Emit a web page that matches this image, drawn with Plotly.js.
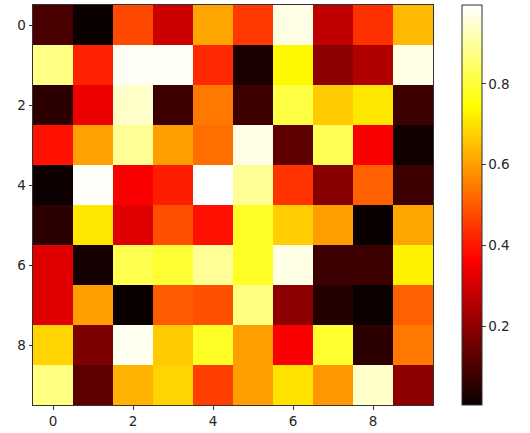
<!DOCTYPE html>
<html>
<head>
<meta charset="utf-8">
<script src="https://cdn.plot.ly/plotly-3.0.1.min.js"></script>
<style>html,body{margin:0;padding:0;background:#fff;}#chart{width:530px;height:433px;}</style>
</head>
<body>
<div id="chart"></div>
<script>
var cols = [0,1,2,3,4,5,6,7,8,9];
var rows = [0,1,2,3,4,5,6,7,8,9];
var row0 = [0.10, 0.007, 0.475, 0.29, 0.61, 0.45, 0.97, 0.27, 0.437, 0.64];
var row1 = [0.873, 0.415, 0.985, 0.985, 0.425, 0.03, 0.735, 0.20, 0.25, 0.97];
var row2 = [0.055, 0.34, 0.94, 0.08, 0.545, 0.08, 0.81, 0.665, 0.71, 0.08];
var row3 = [0.39, 0.605, 0.89, 0.60, 0.53, 0.97, 0.13, 0.825, 0.36, 0.015];
var row4 = [0.008, 0.99, 0.36, 0.41, 0.995, 0.89, 0.44, 0.19, 0.51, 0.08];
var row5 = [0.055, 0.71, 0.32, 0.485, 0.39, 0.78, 0.67, 0.60, 0.005, 0.61];
var row6 = [0.32, 0.02, 0.82, 0.795, 0.89, 0.78, 0.97, 0.08, 0.08, 0.725];
var row7 = [0.32, 0.60, 0.006, 0.50, 0.485, 0.87, 0.20, 0.045, 0.01, 0.51];
var row8 = [0.68, 0.175, 0.98, 0.665, 0.78, 0.60, 0.36, 0.79, 0.055, 0.545];
var row9 = [0.87, 0.13, 0.63, 0.68, 0.46, 0.60, 0.70, 0.59, 0.94, 0.20];
var z = [row0,row1,row2,row3,row4,row5,row6,row7,row8,row9];

var xTicks = [0,2,4,6,8];
var yTicks = [0,2,4,6,8];
var cbTicks = [0.2,0.4,0.6,0.8];

var hot = [
  [0, 'rgb(10,0,0)'],
  [0.365079, 'rgb(255,0,0)'],
  [0.746032, 'rgb(255,255,0)'],
  [1, 'rgb(255,255,255)']
];

var font = {family: 'DejaVu Sans', size: 13.5, color: '#262626'};

var trace = {
  type: 'heatmap',
  x: cols, y: rows, z: z,
  colorscale: hot,
  zsmooth: false,
  colorbar: {
    x: 1.0725, xanchor: 'left', xref: 'paper',
    y: 0.5, yanchor: 'middle', len: 1, lenmode: 'fraction',
    thickness: 20, thicknessmode: 'pixels',
    xpad: 0, ypad: 0,
    outlinewidth: 1, outlinecolor: '#333',
    tickvals: cbTicks, ticktext: cbTicks.map(function(v){return v.toFixed(1);}),
    ticks: 'outside', ticklen: 3.5, tickwidth: 1, tickcolor: '#333',
    tickfont: font
  }
};

var layout = {
  width: 530, height: 433,
  margin: {l: 33, r: 97, t: 5, b: 28, pad: 0},
  paper_bgcolor: '#fff', plot_bgcolor: '#fff',
  font: font,
  xaxis: {
    range: [-0.5, 9.5], tickvals: xTicks, ticks: 'outside', ticklen: 3.5, tickwidth: 1, tickcolor: '#333',
    showgrid: false, zeroline: false, showline: true, mirror: true, linecolor: '#333', linewidth: 1,
    tickfont: font
  },
  yaxis: {
    range: [9.5, -0.5], tickvals: yTicks, ticks: 'outside', ticklen: 3.5, tickwidth: 1, tickcolor: '#333',
    showgrid: false, zeroline: false, showline: true, mirror: true, linecolor: '#333', linewidth: 1,
    tickfont: font
  }
};

Plotly.newPlot('chart', [trace], layout, {displayModeBar: false, staticPlot: true});
</script>
</body>
</html>
